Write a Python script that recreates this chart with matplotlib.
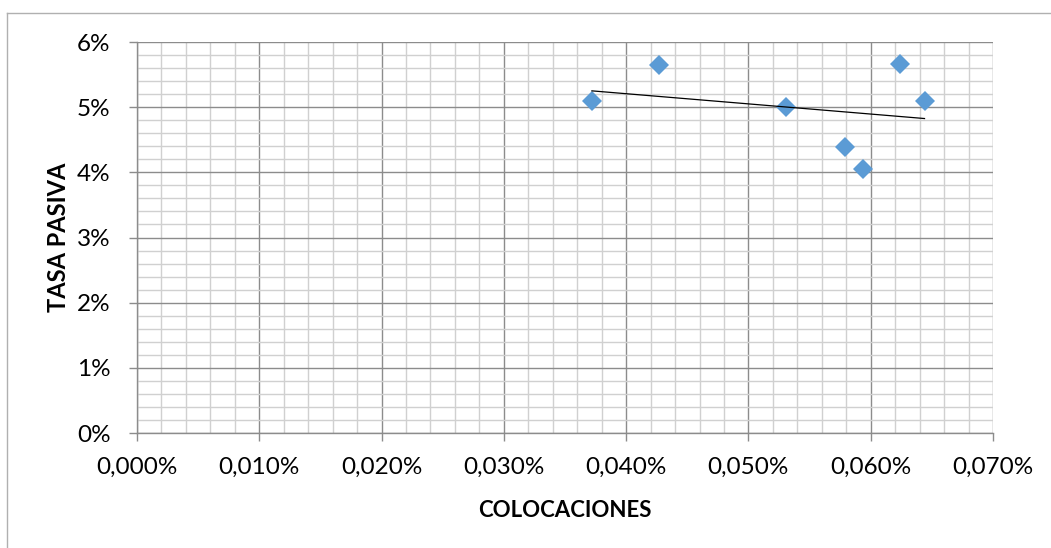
import numpy as np
import matplotlib
matplotlib.use("Agg")
import matplotlib.pyplot as plt
from matplotlib.ticker import MultipleLocator, FuncFormatter
from matplotlib.lines import Line2D

# Colocaciones vs tasa pasiva (both in percent)
colocaciones = [0.0372, 0.0427, 0.0531, 0.0579, 0.0594, 0.0624, 0.0644]
tasa_pasiva = [5.09, 5.65, 5.00, 4.39, 4.05, 5.66, 5.09]

x_label = "COLOCACIONES"
y_label = "TASA PASIVA"

plt.rcParams["font.family"] = ["Lato", "DejaVu Sans"]

W, H = 1051, 548
fig = plt.figure(figsize=(W / 100, H / 100), dpi=100)
ax = fig.add_axes([137 / W, (H - 433) / H, 856 / W, 391 / H])

x = np.array(colocaciones)
y = np.array(tasa_pasiva)

ax.set_xlim(0, 0.070)
ax.set_ylim(0, 6)

ax.xaxis.set_major_locator(MultipleLocator(0.010))
ax.xaxis.set_minor_locator(MultipleLocator(0.002))
ax.yaxis.set_major_locator(MultipleLocator(1))
ax.yaxis.set_minor_locator(MultipleLocator(0.2))

ax.xaxis.set_major_formatter(FuncFormatter(lambda v, p: f"{v:.3f}%".replace(".", ",")))
ax.yaxis.set_major_formatter(FuncFormatter(lambda v, p: f"{v:.0f}%"))

ax.grid(which="minor", color="#d0d0d0", linewidth=1.0, zorder=0)
ax.grid(which="major", color="#8c8c8c", linewidth=1.0, zorder=0.5)
ax.set_axisbelow(True)

for side in ["top", "right"]:
    ax.spines[side].set_visible(False)
for side in ["left", "bottom"]:
    ax.spines[side].set_color("#8c8c8c")
    ax.spines[side].set_linewidth(1.0)

ax.tick_params(which="major", length=6, width=1.0, color="#8c8c8c",
               labelsize=17.5, labelcolor="black")
ax.tick_params(which="minor", length=0)
ax.tick_params(axis="x", pad=11)
ax.tick_params(axis="y", pad=13)

ax.plot(x, y, linestyle="none", marker="D", markersize=9.8,
        color="#5B9BD5", markeredgewidth=0, zorder=3)

# Linear trend line over the data range
slope, intercept = np.polyfit(x, y, 1)
xs = np.array([x.min(), x.max()])
ax.plot(xs, slope * xs + intercept, color="black", linewidth=0.9, zorder=4)

ax.set_xlabel(x_label, fontsize=16, fontweight="bold", labelpad=16)
ax.set_ylabel(y_label, fontsize=17, fontweight="bold", labelpad=5)

# Chart frame (left and top edges)
fig.add_artist(Line2D([6.5 / W, 6.5 / W], [0, 1 - 12.5 / H], color="#b0b0b0",
                      linewidth=1.0, transform=fig.transFigure))
fig.add_artist(Line2D([6.5 / W, 1], [1 - 12.5 / H, 1 - 12.5 / H], color="#b0b0b0",
                      linewidth=1.0, transform=fig.transFigure))

fig.savefig("out.png", dpi=100)
